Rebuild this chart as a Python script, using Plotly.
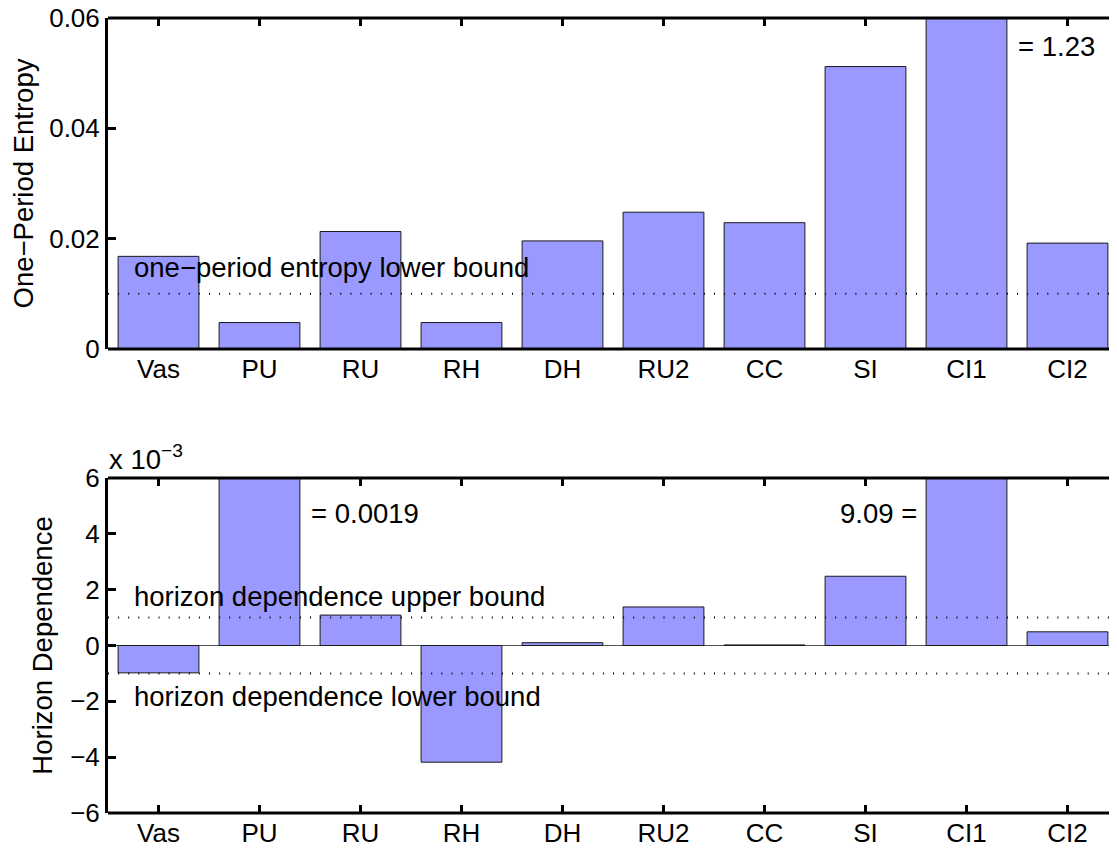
import plotly.graph_objects as go

categories = ["Vas", "PU", "RU", "RH", "DH", "RU2", "CC", "SI", "CI1", "CI2"]
entropy = [0.0168, 0.0048, 0.0213, 0.0048, 0.0196, 0.0248, 0.0229, 0.0512, 1.23, 0.0192]
horizon = [-0.00098, 0.019, 0.00109, -0.00418, 0.0001, 0.00138, 0.00002, 0.00248, 9.09, 0.00049]
entropy_lower_bound = 0.01
horizon_upper_bound = 0.001
horizon_lower_bound = -0.001
top_ticks = [0, 0.02, 0.04, 0.06]
top_ticklabels = ["0", "0.02", "0.04", "0.06"]
bottom_ticks = [-0.006, -0.004, -0.002, 0, 0.002, 0.004, 0.006]
bottom_ticklabels = ["−6", "−4", "−2", "0", "2", "4", "6"]

positions = list(range(1, len(categories) + 1))

FONT = "Liberation Sans, Arial, Helvetica, sans-serif"
FS = 26      # tick labels
FT = 27.5    # titles and in-plot texts
BAR = "#9999FF"

fig = go.Figure()
fig.add_bar(x=positions, y=entropy, xaxis="x", yaxis="y", width=0.8,
            marker=dict(color=BAR, line=dict(color="#1a1a1a", width=1)), showlegend=False)
fig.add_bar(x=positions, y=horizon, xaxis="x2", yaxis="y2", width=0.8,
            marker=dict(color=BAR, line=dict(color="#1a1a1a", width=1)), showlegend=False)
# empty traces to hold the right-side tick axes
fig.add_scatter(x=[], y=[], xaxis="x", yaxis="y3", showlegend=False)
fig.add_scatter(x=[], y=[], xaxis="x2", yaxis="y4", showlegend=False)

top_dom = [0.5836, 1.0]
bot_dom = [0.0, 0.4214]

xcommon = dict(range=[0.5, 10.5], tickvals=positions, ticktext=categories,
               ticks="inside", ticklen=8, tickwidth=3, tickcolor="black",
               showline=False, mirror="ticks", showgrid=False, zeroline=False,
               layer="below traces", ticklabelstandoff=2, automargin=False,
               ticklabeloverflow="allow",
               tickfont=dict(family=FONT, size=FS, color="black"),
               domain=[0, 1])
ycommon = dict(ticks="inside", ticklen=8, tickwidth=3, tickcolor="black",
               showline=True, linewidth=3, linecolor="black", showgrid=False,
               automargin=False, ticklabeloverflow="allow",
               tickfont=dict(family=FONT, size=FS, color="black"))
yright = dict(showticklabels=False, ticks="inside", ticklen=8, tickwidth=3,
              tickcolor="black", showline=False, showgrid=False, zeroline=False,
              automargin=False, side="right")

fig.update_layout(
    width=1117, height=852,
    margin=dict(l=100, r=7, t=10, b=47),
    plot_bgcolor="white", paper_bgcolor="white",
    font=dict(family=FONT, size=FS, color="black"),
    bargap=0.2,
    xaxis=dict(anchor="y", **xcommon),
    xaxis2=dict(anchor="y2", **xcommon),
    yaxis=dict(domain=top_dom, anchor="x", range=[0, 0.06], tickvals=top_ticks,
               ticktext=top_ticklabels, zeroline=False,
               title=dict(text="One−Period Entropy", standoff=11,
                          font=dict(family=FONT, size=FT, color="black")),
               **ycommon),
    yaxis2=dict(domain=bot_dom, anchor="x2", range=[-0.006, 0.006], tickvals=bottom_ticks,
                ticktext=bottom_ticklabels, zeroline=True, zerolinecolor="#555555",
                zerolinewidth=1,
                title=dict(text="Horizon Dependence", standoff=10,
                           font=dict(family=FONT, size=FT, color="black")),
                **ycommon),
    yaxis3=dict(overlaying="y", anchor="x", range=[0, 0.06], tickvals=top_ticks, **yright),
    yaxis4=dict(overlaying="y2", anchor="x2", range=[-0.006, 0.006], tickvals=bottom_ticks,
                **yright),
)

# frame lines (top and bottom of each axes box), drawn above the bars
for xr, yr in (("x", "y"), ("x2", "y2")):
    for yy in (0, 1):
        fig.add_shape(type="line", xref=f"{xr} domain", yref=f"{yr} domain",
                      x0=0, x1=1, y0=yy, y1=yy, line=dict(color="black", width=3),
                      layer="above")

dot = dict(color="black", width=2, dash="1px,9.1px")
for xr, yr, yv in (("x", "y", entropy_lower_bound),
                   ("x2", "y2", horizon_upper_bound),
                   ("x2", "y2", horizon_lower_bound)):
    fig.add_shape(type="line", xref=f"{xr} domain", yref=yr, x0=0, x1=1,
                  y0=yv, y1=yv, line=dot)

ann_font = dict(family=FONT, size=FT, color="black")
annotations = [
    dict(text="one−period entropy lower bound", x=0.75, y=0.0147, xref="x", yref="y",
         xanchor="left", yanchor="middle"),
    dict(text="= 1.23", x=9.5, y=0.0548, xref="x", yref="y",
         xanchor="left", yanchor="middle"),
    dict(text="= 0.0019", x=2.5, y=0.00474, xref="x2", yref="y2",
         xanchor="left", yanchor="middle"),
    dict(text="9.09 =", x=8.52, y=0.00474, xref="x2", yref="y2",
         xanchor="right", yanchor="middle"),
    dict(text="horizon dependence upper bound", x=0.75, y=0.00176, xref="x2", yref="y2",
         xanchor="left", yanchor="middle"),
    dict(text="horizon dependence lower bound", x=0.75, y=-0.00182, xref="x2", yref="y2",
         xanchor="left", yanchor="middle"),
    dict(text="x 10<sup>−3</sup>", x=0, y=1, xref="x2 domain", yref="y2 domain",
         xanchor="left", yanchor="bottom", yshift=2),
]
for a in annotations:
    fig.add_annotation(showarrow=False, font=ann_font, borderpad=0, **a)

fig.write_html("out.html")
